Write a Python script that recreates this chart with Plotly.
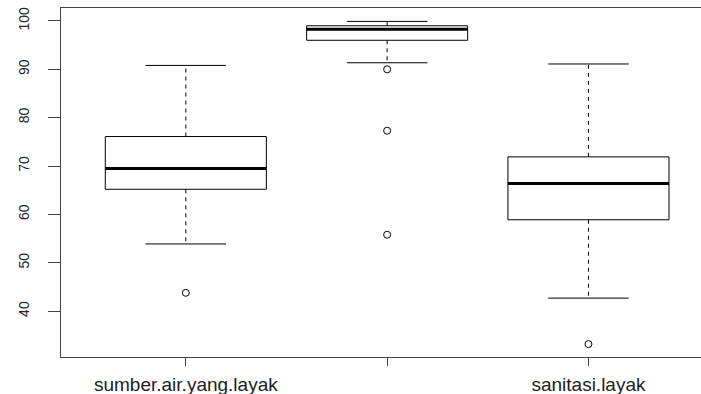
import plotly.graph_objects as go

# ---- data ----
tick_labels = ["sumber.air.yang.layak", "", "sanitasi.layak"]
positions = [1, 2, 3]
q1 = [65.2, 96.0, 58.9]
median = [69.5, 98.3, 66.4]
q3 = [76.1, 99.0, 71.9]
lower_whisker = [53.9, 91.35, 42.7]
upper_whisker = [90.8, 99.9, 91.1]
outliers = [[43.8], [90.0, 77.3, 55.8], [33.2]]
y_ticks = [40, 50, 60, 70, 80, 90, 100]

BOX_HALF = 0.4
STAPLE_HALF = 0.2
LINE = "black"

fig = go.Figure()
for i, c in enumerate(positions):
    # dashed whiskers
    for a, b in ((q3[i], upper_whisker[i]), (q1[i], lower_whisker[i])):
        fig.add_trace(go.Scatter(x=[c, c], y=[a, b], mode="lines",
                                 line=dict(color=LINE, width=1, dash="4px,4px"),
                                 hoverinfo="skip", showlegend=False))
    # staples
    for w in (upper_whisker[i], lower_whisker[i]):
        fig.add_trace(go.Scatter(x=[c - STAPLE_HALF, c + STAPLE_HALF], y=[w, w], mode="lines",
                                 line=dict(color=LINE, width=1),
                                 hoverinfo="skip", showlegend=False))
    # box
    fig.add_trace(go.Scatter(x=[c - BOX_HALF, c + BOX_HALF, c + BOX_HALF, c - BOX_HALF, c - BOX_HALF],
                             y=[q1[i], q1[i], q3[i], q3[i], q1[i]], mode="lines",
                             line=dict(color=LINE, width=1),
                             hoverinfo="skip", showlegend=False))
    # median
    fig.add_trace(go.Scatter(x=[c - BOX_HALF, c + BOX_HALF], y=[median[i], median[i]], mode="lines",
                             line=dict(color=LINE, width=3),
                             hoverinfo="skip", showlegend=False))
    # outliers
    fig.add_trace(go.Scatter(x=[c] * len(outliers[i]), y=outliers[i], mode="markers",
                             marker=dict(symbol="circle-open", size=7, color=LINE,
                                         line=dict(width=1)),
                             hoverinfo="skip", showlegend=False))

fig.update_layout(
    width=701, height=394,
    margin=dict(l=61, r=0, t=8, b=37, autoexpand=False),
    paper_bgcolor="white", plot_bgcolor="white",
    font=dict(family="Liberation Sans, Arial, sans-serif", color="#222"),
    showlegend=False,
)
fig.update_xaxes(
    range=[0.38, 3.559], tickvals=positions, ticktext=tick_labels,
    showline=True, mirror=True, linecolor="#444", linewidth=1,
    ticks="outside", ticklen=8, tickcolor="#444",
    showgrid=False, zeroline=False, automargin=False,
    tickfont=dict(size=19, color="#222"), ticklabelstandoff=2,
)
fig.update_yaxes(
    range=[30.53, 102.67], tickvals=y_ticks,
    showline=True, mirror=False, linecolor="#444", linewidth=1,
    ticks="outside", ticklen=12, tickcolor="#444",
    showgrid=False, zeroline=False, tickangle=-90, automargin=False,
    tickfont=dict(size=14, color="#222"), ticklabelstandoff=13,
)

fig.write_html("out.html", config={"displayModeBar": False},
               post_script="document.body.style.margin='0';document.body.style.overflow='hidden';")
